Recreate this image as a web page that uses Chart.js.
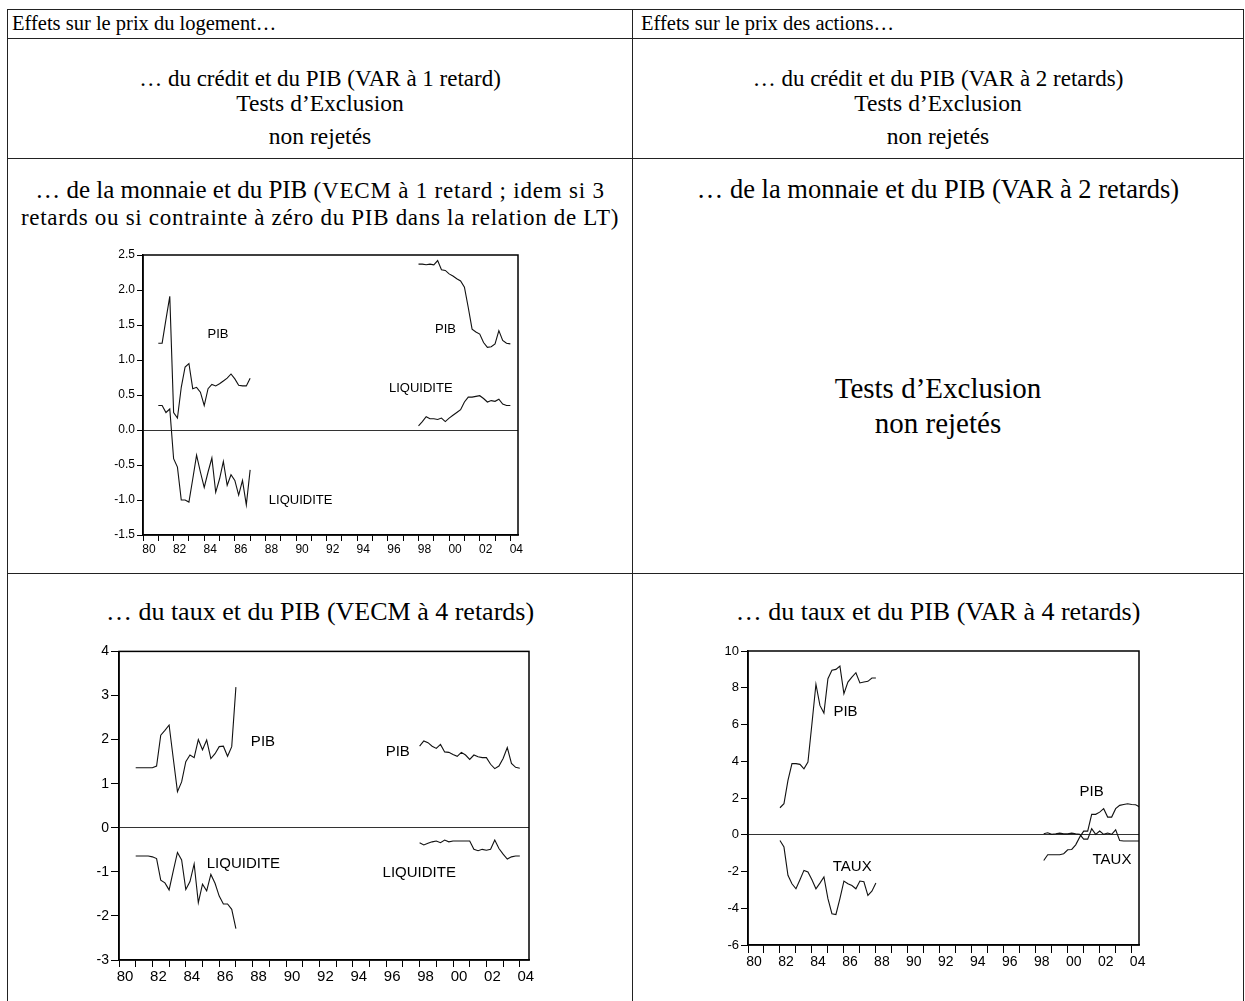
<!DOCTYPE html>
<html>
<head>
<meta charset="utf-8">
<script src="https://cdn.jsdelivr.net/npm/chart.js@4.4.1/dist/chart.umd.min.js"></script>
<style>
html,body{margin:0;padding:0;background:#fff;}
body{width:1245px;height:1001px;position:relative;overflow:hidden;font-family:"Liberation Serif","Times New Roman",serif;color:#000;}
.hl{position:absolute;height:0;border-top:1.5px solid #222;}
.vl{position:absolute;width:0;border-left:1.5px solid #222;}
.t{position:absolute;white-space:nowrap;line-height:1;transform:translateY(-50%);}
.c{text-align:center;width:620px;}
canvas{position:absolute;}
</style>
</head>
<body>
<!-- table grid -->
<div class="hl" style="left:7px;top:9px;width:1237px"></div>
<div class="hl" style="left:7px;top:38px;width:1237px"></div>
<div class="hl" style="left:7px;top:158px;width:1237px"></div>
<div class="hl" style="left:7px;top:573px;width:1237px"></div>
<div class="vl" style="left:7px;top:9px;height:992px"></div>
<div class="vl" style="left:632px;top:9px;height:992px"></div>
<div class="vl" style="left:1243px;top:9px;height:992px"></div>

<div class="t" style="left:12px;top:23px;font-size:20.5px">Effets sur le prix du logement…</div>
<div class="t" style="left:641px;top:23px;font-size:20.5px">Effets sur le prix des actions…</div>

<div class="t c" style="left:10px;top:78px;font-size:23px">… du crédit et du PIB (VAR à 1 retard)</div>
<div class="t c" style="left:10px;top:104px;font-size:23.5px">Tests d’Exclusion</div>
<div class="t c" style="left:10px;top:137px;font-size:23.5px">non rejetés</div>
<div class="t c" style="left:628px;top:78px;font-size:23px">… du crédit et du PIB (VAR à 2 retards)</div>
<div class="t c" style="left:628px;top:104px;font-size:23.5px">Tests d’Exclusion</div>
<div class="t c" style="left:628px;top:137px;font-size:23.5px">non rejetés</div>

<div class="t c" style="left:10px;top:189px;font-size:25px">… de la monnaie et du PIB <span style="font-size:23px;letter-spacing:0.8px">(VECM à 1 retard ; idem si 3</span></div>
<div class="t c" style="left:10px;top:217px;font-size:23px;letter-spacing:0.7px">retards ou si contrainte à zéro du PIB dans la relation de LT)</div>
<div class="t c" style="left:628px;top:189px;font-size:26.5px">… de la monnaie et du PIB (VAR à 2 retards)</div>
<div class="t c" style="left:628px;top:388px;font-size:29px">Tests d’Exclusion</div>
<div class="t c" style="left:628px;top:423px;font-size:29px">non rejetés</div>

<div class="t c" style="left:10px;top:612px;font-size:26px">… du taux et du PIB (VECM à 4 retards)</div>
<div class="t c" style="left:628px;top:612px;font-size:26px">… du taux et du PIB (VAR à 4 retards)</div>

<canvas id="chLogMon"></canvas>
<canvas id="chLogTaux"></canvas>
<canvas id="chActTaux"></canvas>

<script>
// quarterly dates, start year + n quarters
const quarters = (start, n) => Array.from({length: n}, (_, i) => start + i / 4);

// logement : monnaie et PIB (VECM 1 retard)
const logMonDates1 = quarters(1981, 25);
const logMonDates2 = quarters(1998, 25);
const logMonPib1 = [1.24, 1.24, 1.58, 1.91, 0.25, 0.17, 0.61, 0.90, 0.95, 0.59, 0.61, 0.54, 0.35, 0.59, 0.65, 0.63, 0.66, 0.70, 0.74, 0.80, 0.73, 0.64, 0.63, 0.63, 0.74];
const logMonLiq1 = [0.35, 0.35, 0.25, 0.30, -0.41, -0.53, -1.00, -1.00, -1.03, -0.70, -0.36, -0.60, -0.82, -0.60, -0.40, -0.89, -0.70, -0.45, -0.79, -0.64, -0.72, -0.93, -0.72, -1.07, -0.57];
const logMonPib2 = [2.37, 2.37, 2.36, 2.37, 2.36, 2.42, 2.29, 2.28, 2.23, 2.20, 2.16, 2.13, 2.04, 1.75, 1.44, 1.40, 1.37, 1.25, 1.18, 1.19, 1.23, 1.42, 1.28, 1.24, 1.23];
const logMonLiq2 = [0.06, 0.12, 0.19, 0.16, 0.16, 0.15, 0.17, 0.12, 0.17, 0.21, 0.25, 0.29, 0.40, 0.47, 0.47, 0.48, 0.49, 0.45, 0.40, 0.42, 0.41, 0.44, 0.37, 0.35, 0.35];

// logement : taux et PIB (VECM 4 retards)
const logTauxDates1 = quarters(1981, 25);
const logTauxDates2 = quarters(1998, 25);
const logTauxPib1 = [1.36, 1.36, 1.36, 1.36, 1.36, 1.40, 2.10, 2.21, 2.33, 1.57, 0.82, 1.04, 1.50, 1.65, 1.59, 2.00, 1.77, 1.99, 1.57, 1.68, 1.84, 1.85, 1.62, 1.84, 3.19];
const logTauxLiq1 = [-0.64, -0.64, -0.64, -0.64, -0.66, -0.70, -1.19, -1.25, -1.41, -0.98, -0.56, -0.73, -1.40, -1.22, -0.82, -1.70, -1.28, -1.43, -1.06, -1.26, -1.55, -1.73, -1.73, -1.85, -2.29];
const logTauxPib2 = [1.85, 1.97, 1.93, 1.85, 1.80, 1.89, 1.72, 1.71, 1.66, 1.62, 1.71, 1.65, 1.55, 1.65, 1.61, 1.59, 1.59, 1.44, 1.34, 1.40, 1.57, 1.82, 1.46, 1.37, 1.35];
const logTauxLiq2 = [-0.34, -0.39, -0.35, -0.32, -0.30, -0.34, -0.28, -0.32, -0.30, -0.30, -0.30, -0.30, -0.30, -0.49, -0.52, -0.49, -0.51, -0.49, -0.28, -0.47, -0.60, -0.71, -0.66, -0.64, -0.64];

// actions : taux et PIB (VAR 4 retards)
const actTauxDates1 = quarters(1982, 25);
const actTauxDates2 = quarters(1998.5, 25);
const actTauxPib1 = [1.47, 1.69, 2.96, 3.87, 3.87, 3.83, 3.59, 3.96, 6.04, 8.19, 7.04, 6.62, 8.49, 8.95, 9.00, 9.18, 7.68, 8.31, 8.58, 8.82, 8.26, 8.31, 8.35, 8.53, 8.53];
const actTauxTaux1 = [-0.31, -0.67, -2.21, -2.67, -2.94, -2.45, -1.94, -2.03, -2.45, -2.94, -2.63, -2.30, -3.48, -4.30, -4.34, -3.48, -2.52, -2.67, -2.76, -2.94, -2.52, -2.56, -3.30, -3.07, -2.63];
const actTauxPib2 = [-1.40, -1.09, -1.09, -1.09, -1.09, -1.03, -0.82, -0.80, -0.55, -0.13, 0.20, 0.20, 1.11, 1.11, 1.23, 1.42, 0.96, 0.96, 1.42, 1.60, 1.65, 1.69, 1.65, 1.63, 1.51];
const actTauxTaux2 = [0.05, 0.11, 0.02, 0.05, 0.09, 0.05, 0.05, 0.09, 0.05, 0.02, -0.24, -0.24, 0.33, 0.02, 0.20, 0.02, 0.09, 0.02, 0.27, -0.31, -0.34, -0.34, -0.34, -0.34, -0.34];

const yearTickLabel = v => (v % 2 === 0 ? String(v % 100).padStart(2, '0') : '');

const seriesText = {
  id: 'seriesText',
  afterDatasetsDraw(chart, args, opts) {
    const {ctx, scales} = chart;
    ctx.save();
    ctx.font = opts.font;
    ctx.fillStyle = '#000';
    ctx.textAlign = 'center';
    ctx.textBaseline = 'middle';
    for (const it of opts.items) {
      ctx.fillText(it.text, scales.x.getPixelForValue(it.x), scales.y.getPixelForValue(it.y));
    }
    ctx.restore();
  }
};

const frame = {
  id: 'frame',
  afterDraw(chart) {
    const a = chart.chartArea, ctx = chart.ctx;
    ctx.save();
    ctx.strokeStyle = '#000';
    ctx.lineWidth = 1.5;
    ctx.strokeRect(a.left, a.top, a.right - a.left, a.bottom - a.top);
    ctx.restore();
  }
};

function seg(dates, vals) {
  return {
    data: dates.map((x, i) => ({x, y: vals[i]})),
    borderColor: '#111', borderWidth: 1.1, pointRadius: 0, tension: 0, fill: false
  };
}

function makeChart(id, o) {
  const padTop = 10, padRight = 22;
  const cv = document.getElementById(id);
  const w = o.yW + (o.plot.r - o.plot.l) + padRight;
  const h = padTop + (o.plot.b - o.plot.t) + o.xH;
  cv.width = w; cv.height = h;
  cv.style.left = (o.plot.l - o.yW) + 'px';
  cv.style.top = (o.plot.t - padTop) + 'px';
  cv.style.width = w + 'px'; cv.style.height = h + 'px';
  const sans = '"Liberation Sans", Arial, sans-serif';
  return new Chart(cv, {
    type: 'line',
    data: {datasets: o.segments},
    options: {
      responsive: false, animation: false, devicePixelRatio: 1,
      layout: {padding: {top: padTop, right: padRight, left: 0, bottom: 0}},
      plugins: {legend: {display: false}, tooltip: {enabled: false},
        seriesText: {font: o.textSize + 'px ' + sans, items: o.texts}},
      scales: {
        x: {
          type: 'linear', min: 1980, max: o.xMax,
          afterFit: s => { s.height = o.xH; },
          border: {display: true, color: '#000', width: 1.5},
          grid: {drawOnChartArea: false, drawTicks: true, tickLength: o.xTick, tickColor: '#000', color: '#000'},
          ticks: {stepSize: 1, includeBounds: false, autoSkip: false, maxRotation: 0, minRotation: 0,
            labelOffset: 6, padding: 1, color: '#000', font: {family: sans, size: o.xFont},
            callback: yearTickLabel}
        },
        y: {
          min: o.yMin, max: o.yMax,
          afterFit: s => { s.width = o.yW; },
          border: {display: true, color: '#000', width: 1.5},
          grid: {drawTicks: true, tickLength: o.yTick, tickColor: '#000', lineWidth: 1,
            color: c => (c.tick && Math.abs(c.tick.value) < 1e-9 ? '#333' : 'rgba(0,0,0,0)')},
          ticks: {stepSize: o.yStep, padding: 2, color: '#000', font: {family: sans, size: o.yFont},
            callback: v => (o.yDec ? v.toFixed(o.yDec) : String(Math.round(v)))}
        }
      }
    },
    plugins: [seriesText, frame]
  });
}

makeChart('chLogMon', {
  plot: {l: 143, t: 255, r: 518, b: 535}, yW: 50, xH: 30, xTick: 6, yTick: 6,
  xMax: 2004.5, yMin: -1.5, yMax: 2.5, yStep: 0.5, yDec: 1, xFont: 12, yFont: 12, textSize: 13,
  segments: [seg(logMonDates1, logMonPib1), seg(logMonDates1, logMonLiq1), seg(logMonDates2, logMonPib2), seg(logMonDates2, logMonLiq2)],
  texts: [
    {text: 'PIB', x: 1984.9, y: 1.37},
    {text: 'PIB', x: 1999.76, y: 1.44},
    {text: 'LIQUIDITE', x: 1998.15, y: 0.59},
    {text: 'LIQUIDITE', x: 1990.3, y: -1.0}
  ]
});

makeChart('chLogTaux', {
  plot: {l: 119, t: 651, r: 529, b: 960}, yW: 45, xH: 35, xTick: 7, yTick: 8,
  xMax: 2004.55, yMin: -3, yMax: 4, yStep: 1, yDec: 0, xFont: 15, yFont: 14, textSize: 15,
  segments: [seg(logTauxDates1, logTauxPib1), seg(logTauxDates1, logTauxLiq1), seg(logTauxDates2, logTauxPib2), seg(logTauxDates2, logTauxLiq2)],
  texts: [
    {text: 'PIB', x: 1988.62, y: 1.94},
    {text: 'LIQUIDITE', x: 1987.45, y: -0.81},
    {text: 'PIB', x: 1996.69, y: 1.73},
    {text: 'LIQUIDITE', x: 1997.98, y: -1.03}
  ]
});

makeChart('chActTaux', {
  plot: {l: 748, t: 651, r: 1139, b: 945}, yW: 45, xH: 35, xTick: 8, yTick: 7,
  xMax: 2004.46, yMin: -6, yMax: 10, yStep: 2, yDec: 0, xFont: 14, yFont: 13, textSize: 15,
  segments: [seg(actTauxDates1, actTauxPib1), seg(actTauxDates1, actTauxTaux1), seg(actTauxDates2, actTauxPib2), seg(actTauxDates2, actTauxTaux2)],
  texts: [
    {text: 'PIB', x: 1986.1, y: 6.68},
    {text: 'TAUX', x: 1986.52, y: -1.76},
    {text: 'PIB', x: 2001.5, y: 2.32},
    {text: 'TAUX', x: 2002.77, y: -1.36}
  ]
});
</script>
</body>
</html>
